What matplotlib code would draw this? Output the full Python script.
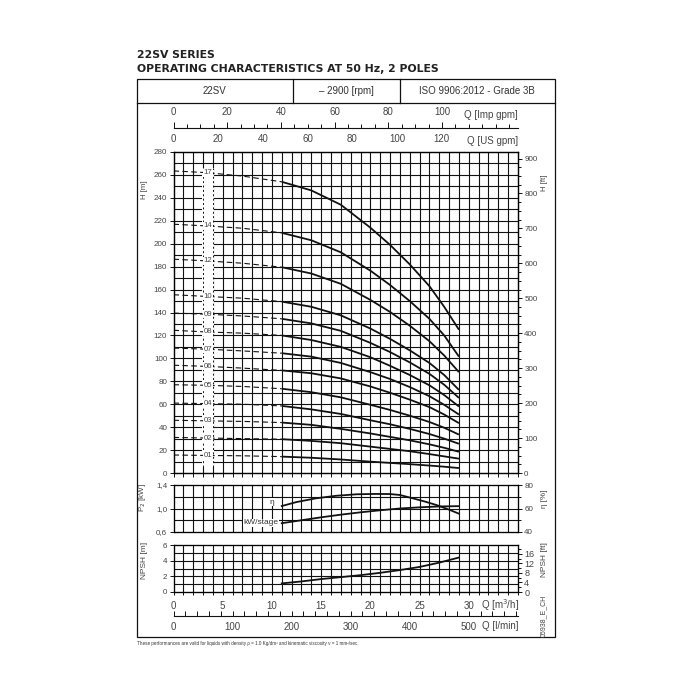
import numpy as np
import matplotlib.pyplot as plt
from matplotlib.patches import Rectangle
from matplotlib.ticker import MultipleLocator

plt.rcParams['font.family'] = ['Liberation Sans', 'DejaVu Sans']

# ---- data (Q in m3/h) ----
Q_H = [0, 3.4, 7, 11, 14, 17, 20, 22, 24, 26, 27.5, 29]
head = {
    "17": [263.5, 262, 259, 254, 246.5, 234, 214, 199, 182, 163, 145, 125],
    "14": [217, 215.5, 213.5, 209.5, 203, 192.5, 176.5, 164, 150, 134.5, 120, 101.5],
    "12": [186.5, 185, 183, 179.5, 174, 165, 151, 140.5, 128.5, 115, 102.5, 88],
    "10": [155.5, 154, 152.5, 149.5, 145, 137.5, 126, 117, 107, 96, 85.5, 72.5],
    "09": [139.5, 138.5, 137, 134.5, 130.5, 124, 113.5, 105.5, 96.5, 86.5, 77, 65.5],
    "08": [124.5, 123, 122, 120, 116, 110, 101, 93.5, 85.5, 76.5, 68, 58],
    "07": [109, 108, 106.5, 104.5, 101.5, 96, 88, 82, 75, 67, 59.5, 51],
    "06": [94, 93, 91.5, 89.5, 87, 82.5, 75.5, 70, 64, 57.5, 51, 43.5],
    "05": [77, 76.5, 75.5, 73.5, 70.5, 66, 59.5, 55, 50, 44.5, 39.5, 33.5],
    "04": [61, 60.5, 60, 58.5, 55.5, 51.5, 46, 42.5, 38.5, 34, 30, 25.5],
    "03": [46, 45.5, 45, 44, 42, 38.5, 34.5, 31.5, 28.5, 25, 22, 18.5],
    "02": [31, 30.5, 30, 29.5, 28, 26, 23, 21, 19, 16.5, 14.5, 12.5],
    "01": [15.7, 15.3, 15, 14.3, 13.3, 11.8, 9.9, 8.8, 7.7, 6.5, 5.5, 4.3],
}
Q_DASH_END = 11  # curves are dashed below this flow

Q_eta = [11, 12.5, 14.5, 16.5, 18.6, 20.5, 22, 23, 24.3, 25.5, 26.7, 28, 29]
eta = [62.1, 65.5, 68.7, 70.8, 72.1, 72.4, 72.3, 71.5, 68.7, 66, 63, 59, 55.6]

Q_P = [11, 13, 15, 17, 19, 21, 23, 25, 27, 29]
P_stage = [0.75, 0.80, 0.85, 0.895, 0.935, 0.97, 1.0, 1.02, 1.035, 1.04]

Q_npsh = [11, 13, 15, 17, 19, 21, 23, 25, 27, 29]
npsh = [1.1, 1.35, 1.65, 1.9, 2.15, 2.45, 2.8, 3.2, 3.75, 4.4]

Q_MAX = 35
US_GPM, IMP_GPM, L_MIN, FT = 4.40287, 3.66615, 16.6667, 3.28084

INK = '#111111'
TXT = '#444444'

fig = plt.figure(figsize=(7, 7), dpi=100)


def px_axes(x0, y0, x1, y1):
    return fig.add_axes([x0 / 700, 1 - y1 / 700, (x1 - x0) / 700, (y1 - y0) / 700])


# frame, header, titles
bg = fig.add_axes([0, 0, 1, 1])
bg.set_xlim(0, 700); bg.set_ylim(700, 0); bg.axis('off')
bg.add_patch(Rectangle((137, 79), 418, 558, fill=False, lw=0.9, ec=INK))
bg.plot([137, 555], [103, 103], color=INK, lw=0.9)
bg.plot([293, 293], [79, 103], color=INK, lw=0.9)
bg.plot([400, 400], [79, 103], color=INK, lw=0.9)
bg.text(137, 55.5, "22SV SERIES", fontsize=7.8, fontweight='bold', family='DejaVu Sans',
        va='center', color='#222')
bg.text(137, 69, "OPERATING CHARACTERISTICS AT 50 Hz, 2 POLES", fontsize=7.8,
        fontweight='bold', family='DejaVu Sans', va='center', color='#222')
bg.text(214, 91.5, "22SV", fontsize=7, ha='center', va='center', color='#333')
bg.text(346, 91.5, "– 2900 [rpm]", fontsize=7, ha='center', va='center', color='#333')
bg.text(477, 91.5, "ISO 9906:2012 - Grade 3B", fontsize=7, ha='center', va='center', color='#333')
bg.text(137, 644, "These performances are valid for liquids with density ρ = 1.0 Kg/dm³ and "
        "kinematic viscosity ν = 1 mm²/sec.", fontsize=3.3, va='center', color='#333')

bg.text(518, 115, "Q [Imp gpm]", fontsize=7, ha='right', va='center', color=TXT)
bg.text(518, 141, "Q [US gpm]", fontsize=7, ha='right', va='center', color=TXT)
bg.text(519, 605, "Q [m$^3$/h]", fontsize=7, ha='right', va='center', color=TXT)
bg.text(518, 626, "Q [l/min]", fontsize=7, ha='right', va='center', color=TXT)
bg.text(544, 616, "05938_E_CH", fontsize=5, rotation=90, ha='center', va='center', color=TXT)

bg.text(145, 190, "H [m]", fontsize=5.6, rotation=90, ha='center', va='center', color=TXT)
bg.text(544, 183, "H [ft]", fontsize=5.6, rotation=90, ha='center', va='center', color=TXT)
bg.text(143, 498, "P$_2$ [kW]", fontsize=5.8, rotation=90, ha='center', va='center', color=TXT)
bg.text(545, 499, "η [%]", fontsize=5.8, rotation=90, ha='center', va='center', color=TXT)
bg.text(145, 560, "NPSH [m]", fontsize=6, rotation=90, ha='center', va='center', color=TXT)
bg.text(545, 560, "NPSH [ft]", fontsize=6, rotation=90, ha='center', va='center', color=TXT)


def draw_grid(ax, yvals):
    for q in range(1, Q_MAX):
        ax.axvline(q, color=INK, lw=0.8, zorder=1)
    for y in yvals:
        ax.axhline(y, color=INK, lw=0.8, zorder=1)
    for s in ax.spines.values():
        s.set_linewidth(0.9); s.set_color(INK)


def style_y(ax):
    ax.tick_params(axis='y', which='both', direction='out', length=3, width=0.7,
                   pad=1.5, labelsize=5.8, labelcolor=TXT, color=INK)
    ax.tick_params(axis='y', which='minor', length=2)


# ---- head panel ----
axh = px_axes(173.5, 152, 518, 473)
axh.set_xlim(0, Q_MAX); axh.set_ylim(0, 280)
draw_grid(axh, range(10, 280, 10))
axh.set_yticks(range(0, 281, 20))
style_y(axh)
axh.set_xticks(range(0, Q_MAX + 1))
axh.tick_params(axis='x', bottom=False, top=True, labelbottom=False, direction='out',
                length=3, width=0.7, color=INK)

# label band
axh.add_patch(Rectangle((2.92, 5), 1.16, 261, fc='white', ec='none', zorder=2))
for q in (3, 4):
    axh.plot([q, q], [5, 266], color=INK, lw=0.7, ls=(0, (2, 2.5)), zorder=2.5)

for name, hv in head.items():
    q = np.array(Q_H); h = np.array(hv)
    dash = q <= Q_DASH_END
    solid = q >= Q_DASH_END
    axh.plot(q[dash], h[dash], color=INK, lw=0.8, ls=(0, (5, 3)), zorder=3)
    axh.plot(q[solid], h[solid], color=INK, lw=1.3, zorder=3, solid_capstyle='butt')
    axh.text(3.5, hv[1], name, fontsize=5.6, color=TXT, ha='center', va='center', zorder=4,
             bbox=dict(fc='white', ec='none', pad=0.3))

axhr = axh.twinx()
axhr.set_ylim(0, 280 * FT)
axhr.set_yticks(range(0, 901, 100))
axhr.yaxis.set_minor_locator(MultipleLocator(25))
style_y(axhr)

axht = axh.twiny()
axht.set_xlim(0, Q_MAX * US_GPM)
axht.set_xticks(range(0, 121, 20))
axht.tick_params(axis='x', length=0, pad=6, labelsize=7, labelcolor=TXT)

# Imp gpm scale
ai = px_axes(173.5, 128, 518, 138)
ai.patch.set_visible(False)
for k in ('left', 'right', 'bottom'):
    ai.spines[k].set_visible(False)
ai.spines['top'].set_linewidth(0.8); ai.spines['top'].set_color(INK)
ai.set_yticks([])
ai.set_xlim(0, Q_MAX * IMP_GPM)
ai.xaxis.tick_top()
ai.set_xticks(range(0, 101, 20))
ai.xaxis.set_minor_locator(MultipleLocator(5))
ai.tick_params(axis='x', which='both', direction='out', length=4, width=0.7, color=INK,
               pad=4, labelsize=7, labelcolor=TXT)
ai.tick_params(axis='x', which='minor', length=3)

# ---- power / efficiency panel ----
axp = px_axes(173.5, 485, 518, 532)
axp.set_xlim(0, Q_MAX); axp.set_ylim(0.6, 1.4)
draw_grid(axp, (0.8, 1.0, 1.2))
axp.set_xticks([])
axp.set_yticks([0.6, 1.0, 1.4])
axp.set_yticklabels(['0,6', '1,0', '1,4'])
style_y(axp)
axp.plot(Q_P, P_stage, color=INK, lw=1.3, zorder=3)
axp.text(10.7, 0.755, "kW/stage", fontsize=6, color='#333', ha='right', va='center', zorder=4,
         bbox=dict(fc='white', ec='none', pad=0.5))
axp.text(10.0, 1.11, "η", fontsize=6, color='#333', ha='center', va='center', zorder=4,
         bbox=dict(fc='white', ec='none', pad=0.3))

axpr = axp.twinx()
axpr.set_ylim(40, 80)
axpr.set_yticks([40, 60, 80])
axpr.yaxis.set_minor_locator(MultipleLocator(10))
style_y(axpr)
axpr.plot(Q_eta, eta, color=INK, lw=1.3, zorder=3)

# ---- NPSH panel ----
axn = px_axes(173.5, 545, 518, 592)
axn.set_xlim(0, Q_MAX); axn.set_ylim(0, 6)
draw_grid(axn, range(1, 6))
axn.set_yticks([0, 2, 4, 6])
style_y(axn)
axn.set_xticks(range(0, 31, 5))
axn.xaxis.set_minor_locator(MultipleLocator(1))
axn.tick_params(axis='x', which='both', direction='out', length=2.5, width=0.7, color=INK,
                pad=4, labelsize=7, labelcolor=TXT)
axn.plot(Q_npsh, npsh, color=INK, lw=1.3, zorder=3)

axnr = axn.twinx()
axnr.set_ylim(0, 6 * FT)
axnr.set_yticks([0, 4, 8, 12, 16])
axnr.yaxis.set_minor_locator(MultipleLocator(2))
style_y(axnr)
axnr.tick_params(axis='y', labelsize=6.5)

# l/min scale
al = px_axes(173.5, 606, 518, 616)
al.patch.set_visible(False)
for k in ('left', 'right', 'top'):
    al.spines[k].set_visible(False)
al.spines['bottom'].set_linewidth(0.8); al.spines['bottom'].set_color(INK)
al.set_yticks([])
al.set_xlim(0, Q_MAX * L_MIN)
al.set_xticks(range(0, 501, 100))
al.xaxis.set_minor_locator(MultipleLocator(20))
al.tick_params(axis='x', which='both', direction='in', length=3.5, width=0.7, color=INK,
               pad=4, labelsize=7, labelcolor=TXT)

fig.savefig("out.png", dpi=100)
